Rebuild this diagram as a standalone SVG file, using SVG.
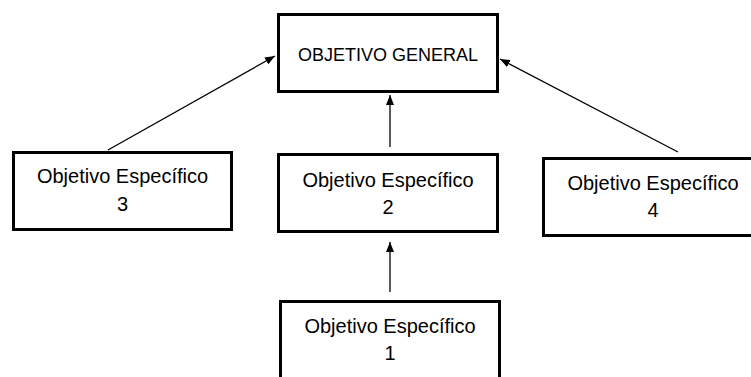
<svg xmlns="http://www.w3.org/2000/svg" width="751" height="377" viewBox="0 0 751 377">
  <style>
    .box { fill: #ffffff; stroke: #000000; stroke-width: 3; }
    .lbl { font-family: "Liberation Sans", Arial, sans-serif; fill: #000000; text-anchor: middle; }
    .t1 { font-size: 18px; }
    .t2 { font-size: 20px; }
    .conn { stroke: #000000; stroke-width: 1.3; fill: none; marker-end: url(#arrow); }
  </style>
  <defs>
    <marker id="arrow" viewBox="0 0 10 8" refX="10" refY="4" markerWidth="10" markerHeight="8" markerUnits="userSpaceOnUse" orient="auto">
      <path d="M0,0 L10,4 L0,8 Z" fill="#000000"/>
    </marker>
  </defs>
  <rect width="751" height="377" fill="#ffffff"/>
  <g id="connectors">
    <line class="conn" x1="108" y1="150" x2="275" y2="56"/>
    <line class="conn" x1="390" y1="147" x2="390" y2="95"/>
    <line class="conn" x1="678" y1="152" x2="500" y2="59"/>
    <line class="conn" x1="390" y1="292" x2="390" y2="242"/>
  </g>
  <g id="objetivo-general">
    <rect class="box" x="278.5" y="14.5" width="219" height="77"/>
    <text class="lbl t1" x="388" y="61">OBJETIVO GENERAL</text>
  </g>
  <g id="objetivo-especifico-3">
    <rect class="box" x="13.5" y="152.5" width="218" height="77"/>
    <text class="lbl t2" x="122.5" y="183">Objetivo Específico</text>
    <text class="lbl t2" x="122.5" y="211">3</text>
  </g>
  <g id="objetivo-especifico-2">
    <rect class="box" x="278.5" y="154.5" width="219" height="77"/>
    <text class="lbl t2" x="388" y="187">Objetivo Específico</text>
    <text class="lbl t2" x="388" y="214">2</text>
  </g>
  <g id="objetivo-especifico-4">
    <rect class="box" x="543.5" y="158.5" width="219" height="77"/>
    <text class="lbl t2" x="653" y="190">Objetivo Específico</text>
    <text class="lbl t2" x="653" y="217">4</text>
  </g>
  <g id="objetivo-especifico-1">
    <rect class="box" x="280.5" y="301.5" width="219" height="80"/>
    <text class="lbl t2" x="390" y="333">Objetivo Específico</text>
    <text class="lbl t2" x="390" y="360">1</text>
  </g>
</svg>
